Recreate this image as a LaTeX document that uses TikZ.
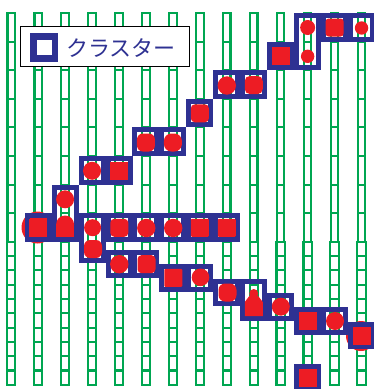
\documentclass[tikz,border=0pt]{standalone}
\usepackage{fontspec}
\newfontfamily\jpfont{Noto Sans CJK JP}
\definecolor{cblue}{RGB}{46,49,146}
\definecolor{cred}{RGB}{237,28,36}
\definecolor{cgreen}{RGB}{0,166,81}
% cluster cell box: column index, top y, bottom y (pixel units, y downwards)
\newcommand\cbox[3]{\draw[clbox] ({11.2+26.95*#1-11.0},{#2+2.5}) rectangle ({11.2+26.95*#1+11.0},{#3-2.5});}
% red square: cx, cy, corner radius
\newcommand\rsq[3]{\fill[cred,rounded corners=#3] ({#1-9},{#2-9}) rectangle ({#1+9},{#2+9});}
\newcommand\rdot[3]{\fill[cred] (#1,#2) circle[radius=#3pt];}
\begin{document}
\begin{tikzpicture}[x=1pt,y=-1pt,
  clbox/.style={draw=cblue,line width=5pt},
  gcol/.style={draw=cgreen,line width=2.1pt}]
\useasboundingbox (0,0) rectangle (374,389);
% green columns
\foreach \k in {0,...,13}{
  \pgfmathsetmacro\cx{11.2+26.95*\k}
  \draw[gcol] ({\cx-3.7},13) rectangle ({\cx+3.7},241.8);
  \foreach \r in {1,...,7} \draw[gcol] ({\cx-3.7},{13+28.6*\r}) -- ({\cx+3.7},{13+28.6*\r});
  \draw[gcol] ({\cx-4.2},241.8) rectangle ({\cx+4.2},384.8);
  \foreach \j in {1,...,9} \draw[gcol] ({\cx-4.2},{241.8+14.3*\j}) -- ({\cx+4.2},{241.8+14.3*\j});
}
% legend
\draw[line width=1.4pt,fill=white] (20.7,26.7) rectangle (189.3,66.3);
\draw[cblue,line width=6.5pt] (33.25,36.55) rectangle (55.05,58.45);
\node[text=cblue,font=\jpfont\fontsize{22}{22}\selectfont,inner sep=0pt] (legtxt) at (120.8,48) {クラスター};
% red circles behind boxes
\rdot{37.5}{227.5}{16}
\rdot{361}{336}{15}
% cluster boxes
\cbox{11}{13}{70.2}
\cbox{12}{13}{41.6}
\cbox{13}{13}{41.6}
\cbox{10}{41.6}{70.2}
\cbox{8}{70.2}{98.8}
\cbox{9}{70.2}{98.8}
\cbox{7}{98.8}{127.4}
\cbox{5}{127.4}{156}
\cbox{6}{127.4}{156}
\cbox{3}{156}{184.6}
\cbox{4}{156}{184.6}
\cbox{2}{184.6}{241.8}
\cbox{1}{213.2}{241.8}
\cbox{3}{213.2}{262.5}
\foreach \k in {4,...,8} {\cbox{\k}{213.2}{241.8}}
\cbox{4}{250}{277.6}
\cbox{5}{250}{277.6}
\cbox{6}{264.3}{291.9}
\cbox{7}{264.3}{291.9}
\cbox{8}{278.6}{306.2}
\cbox{9}{278.6}{320.5}
\cbox{10}{292.9}{320.5}
\cbox{11}{307.2}{334.8}
\cbox{12}{307.2}{334.8}
\cbox{13}{321.5}{349.1}
\cbox{11}{364.4}{392}
% contents
\rdot{307.65}{27.5}{7.5}
\rsq{334.6}{27.5}{3pt}
\rdot{361.55}{28}{6.7}
\rdot{307.65}{56.3}{6.7}
\rsq{280.7}{56.2}{0pt}
\rdot{226.8}{85.5}{9.2}
\rsq{253.75}{85}{5pt}
\rsq{199.85}{113.3}{4pt}
\rsq{145.95}{142.5}{6pt}
\rsq{172.9}{142.5}{7.5pt}
\rdot{92.05}{170.8}{9}
\rsq{119}{170.5}{0pt}
\rdot{65.1}{199.3}{9}
\rsq{38.15}{227.8}{0pt}
\rdot{65.1}{224.5}{9}
\fill[cred] (56.1,224.5) rectangle (74.1,236.7);
\rdot{92.6}{227.7}{8.5}
\rsq{119.3}{227.8}{4pt}
\rdot{146.3}{228}{9.2}
\rdot{173.2}{228}{9.2}
\rsq{199.85}{227.8}{1pt}
\rsq{226.8}{227.8}{1pt}
\rsq{93}{249}{6pt}
\rdot{119.3}{264.2}{9.2}
\rsq{146.5}{264.2}{4pt}
\rsq{173.3}{277.8}{1pt}
\rdot{200.5}{277.3}{8.8}
\rsq{227.5}{292.5}{6.5pt}
\fill[cred] (244.75,316) -- (244.75,302) -- (249.75,295.5) -- (257.75,295.5) -- (262.75,302) -- (262.75,316) -- cycle;
\rdot{253.75}{293.5}{4.5}
\rdot{280.8}{306.7}{9}
\rsq{308.3}{321}{0pt}
\rdot{335}{321}{9}
\rsq{361.7}{335.7}{0pt}
\rsq{308.3}{378}{0pt}
\end{tikzpicture}
\end{document}
